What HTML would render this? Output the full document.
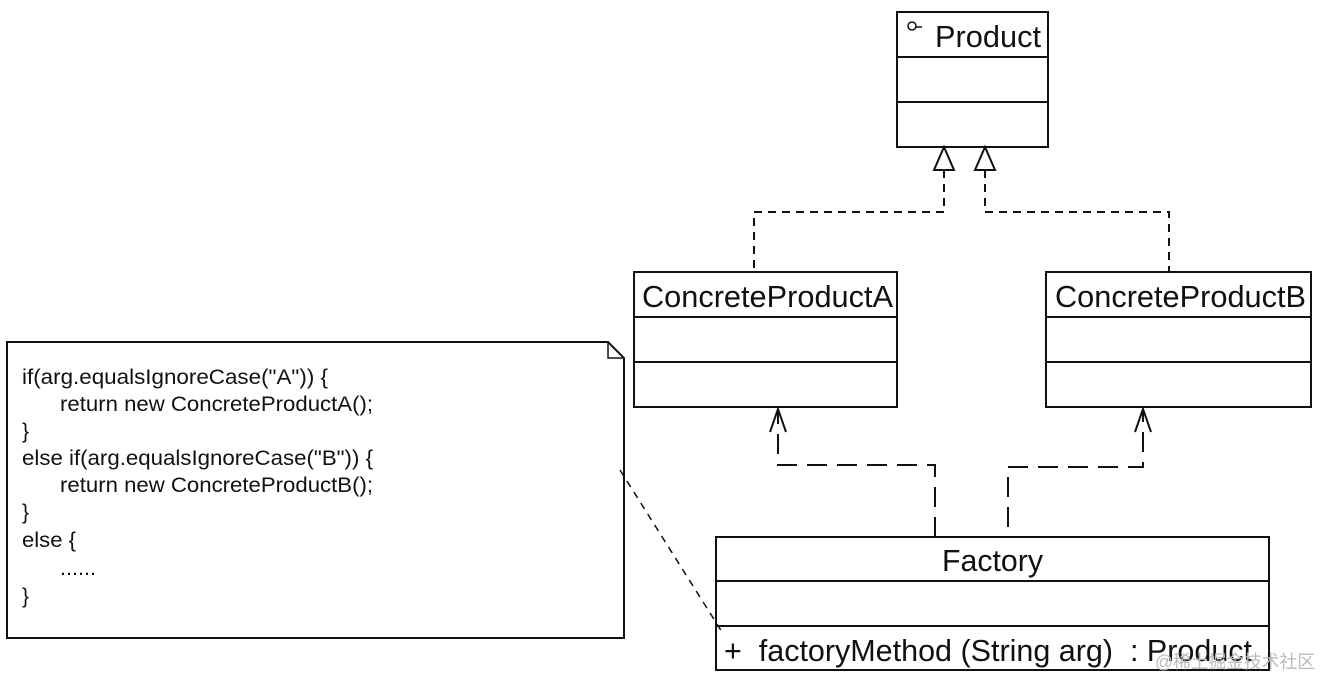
<!DOCTYPE html>
<html><head><meta charset="utf-8"><style>
html,body{margin:0;padding:0;background:#fff;}
svg{display:block;}
text{font-family:"Liberation Sans",Arial,sans-serif;fill:#111;}
</style></head><body>
<svg width="1321" height="680" viewBox="0 0 1321 680" xmlns="http://www.w3.org/2000/svg">
<g fill="none" stroke="#111" stroke-width="2">
  <rect x="897" y="12" width="151" height="135"/>
  <line x1="897" y1="57" x2="1048" y2="57"/>
  <line x1="897" y1="102" x2="1048" y2="102"/>
  <circle cx="912" cy="26" r="4" stroke-width="1.5"/>
  <line x1="916" y1="27" x2="922" y2="27" stroke-width="1.5"/>
  <rect x="634" y="272" width="263" height="135"/>
  <line x1="634" y1="317" x2="897" y2="317"/>
  <line x1="634" y1="362" x2="897" y2="362"/>
  <rect x="1046" y="272" width="265" height="135"/>
  <line x1="1046" y1="317" x2="1311" y2="317"/>
  <line x1="1046" y1="362" x2="1311" y2="362"/>
  <rect x="716" y="537" width="553" height="133"/>
  <line x1="716" y1="581" x2="1269" y2="581"/>
  <line x1="716" y1="626" x2="1269" y2="626"/>
  <path d="M7 342 H608 L624 358 V638 H7 Z"/>
  <path d="M608 342 V358 H624" stroke-width="1.5"/>
  <path d="M944 147 L934 170 H954 Z" fill="#fff"/>
  <path d="M985 147 L975 170 H995 Z" fill="#fff"/>
  <path d="M944 170 V212 H754 V272" stroke-dasharray="8,6"/>
  <path d="M985 170 V212 H1169 V272" stroke-dasharray="8,6"/>
  <path d="M935 537 V465 H778 V409" stroke-dasharray="20,10"/>
  <path d="M770 432 L778 409 L786 432"/>
  <path d="M1008 527 V467 H1143 V409" stroke-dasharray="20,10"/>
  <path d="M1135 432 L1143 409 L1151 432"/>
  <line x1="620" y1="470" x2="722" y2="632" stroke-dasharray="7,6" stroke-width="1.5"/>
</g>
<text x="935" y="47" font-size="31" textLength="106" lengthAdjust="spacingAndGlyphs">Product</text>
<text x="642" y="307" font-size="31" textLength="251" lengthAdjust="spacingAndGlyphs">ConcreteProductA</text>
<text x="1055" y="307" font-size="31" textLength="251" lengthAdjust="spacingAndGlyphs">ConcreteProductB</text>
<text x="942" y="571" font-size="31" textLength="101" lengthAdjust="spacingAndGlyphs">Factory</text>
<text x="724" y="661" font-size="31" textLength="528" lengthAdjust="spacingAndGlyphs" xml:space="preserve">+  factoryMethod (String arg)  : Product</text>
<g font-size="21">
<text x="22" y="384" textLength="306" lengthAdjust="spacingAndGlyphs">if(arg.equalsIgnoreCase("A")) {</text>
<text x="60" y="411" textLength="313" lengthAdjust="spacingAndGlyphs">return new ConcreteProductA();</text>
<text x="22" y="438">}</text>
<text x="22" y="465" textLength="351" lengthAdjust="spacingAndGlyphs">else if(arg.equalsIgnoreCase("B")) {</text>
<text x="60" y="492" textLength="313" lengthAdjust="spacingAndGlyphs">return new ConcreteProductB();</text>
<text x="22" y="519">}</text>
<text x="22" y="547" textLength="54" lengthAdjust="spacingAndGlyphs">else {</text>
<text x="60" y="575" textLength="36" lengthAdjust="spacingAndGlyphs">......</text>
<text x="22" y="603">}</text>
</g>
<text x="1155" y="668" font-size="18" style="fill:#bbb;font-family:'Liberation Sans','Noto Sans CJK SC',sans-serif" textLength="160" lengthAdjust="spacingAndGlyphs">@稀土掘金技术社区</text>
</svg>
</body></html>
